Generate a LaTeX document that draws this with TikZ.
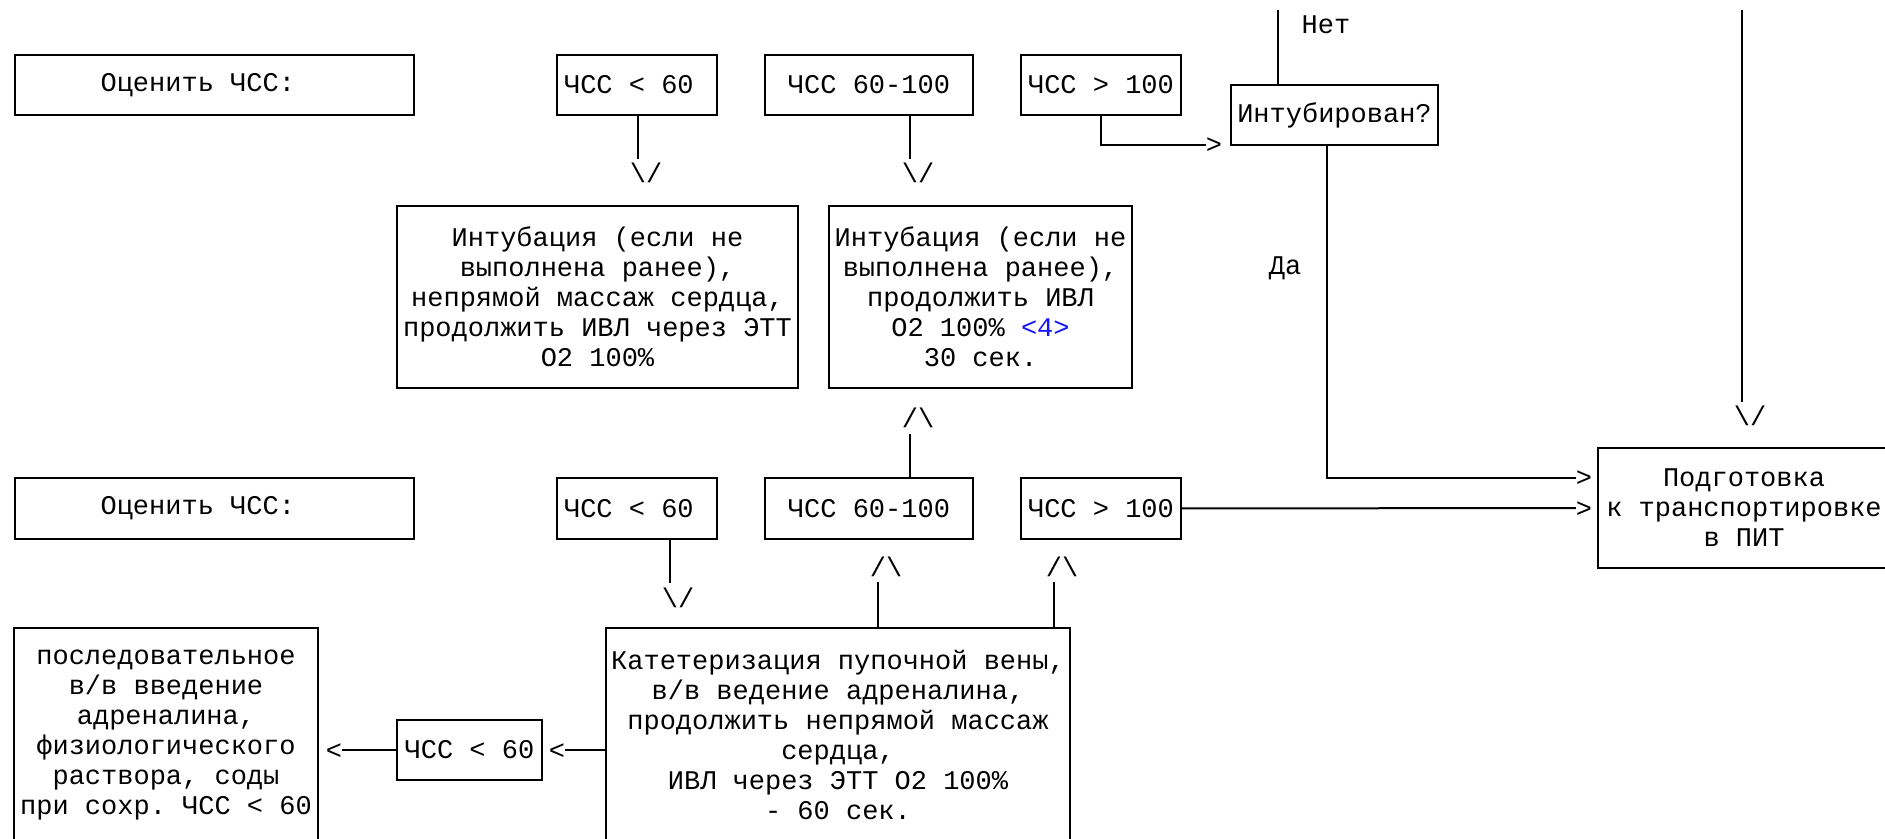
\documentclass[tikz,border=0pt]{standalone}
\usepackage{fontspec}
\setmonofont{Liberation Mono}
\usepackage{xcolor}
\definecolor{linkblue}{RGB}{20,20,255}

\begin{document}
\begin{tikzpicture}[x=0.5pt, y=-0.5pt,
  box/.style={draw, line width=1pt, inner sep=0pt, align=center, font=\ttfamily\fontsize{13.5}{15}\selectfont},
  glyph/.style={inner sep=0pt, outer sep=0pt, text height=9pt, text depth=0pt, font=\ttfamily\fontsize{13.5}{15}\selectfont},
  lbl/.style={inner sep=0pt, font=\ttfamily\fontsize{13.5}{15}\selectfont},
  wire/.style={line width=1pt}]

\useasboundingbox (0,0) rectangle (1885,839) ;
\clip (0,0) rectangle (1885,839) ;

\node [box, minimum width=199.5pt, minimum height=30pt] (rateA) at (214,85) {Оценить ЧСС:\ \ } ;
\node [box, minimum width=80pt, minimum height=30pt] (slowA) at (637,85) {ЧСС < 60\ } ;
\node [box, minimum width=104pt, minimum height=30pt] (normA) at (869,85) {ЧСС 60-100} ;
\node [box, minimum width=80pt, minimum height=30pt] (fastA) at (1101,85) {ЧСС > 100} ;
\node [box, minimum width=103.5pt, minimum height=30pt] (intub) at (1334.5,115) {Интубирован?} ;

\node [box, minimum width=200.5pt, minimum height=91pt] (tubeA) at (597.5,297)
  {Интубация (если не\ \\ выполнена ранее),\\ непрямой массаж сердца,\\ продолжить ИВЛ через ЭТТ\\ O2 100\%} ;
\node [box, minimum width=151.5pt, minimum height=91pt] (tubeB) at (980.5,297)
  {Интубация (если не\\ выполнена ранее),\\ продолжить ИВЛ\\ O2 100\% \textcolor{linkblue}{<4>}\\ 30 сек.} ;

\node [box, minimum width=199.5pt, minimum height=30.5pt] (rateB) at (214,508.5) {Оценить ЧСС:\ \ } ;
\node [box, minimum width=80pt, minimum height=30.5pt] (slowB) at (637,508.5) {ЧСС < 60\ } ;
\node [box, minimum width=104pt, minimum height=30.5pt] (normB) at (869,508.5) {ЧСС 60-100} ;
\node [box, minimum width=80pt, minimum height=30.5pt] (fastB) at (1101,508.5) {ЧСС > 100} ;
\node [box, minimum width=146pt, minimum height=60pt] (transfer) at (1744,508)
  {Подготовка\\ к транспортировке\\ в ПИТ} ;

\node [box, minimum width=232pt, minimum height=107pt] (cath) at (838,735)
  {Катетеризация пупочной вены,\\ в/в ведение адреналина,\\ продолжить непрямой массаж\\ сердца,\\ ИВЛ через ЭТТ O2 100\%\\ - 60 сек.} ;
\node [box, minimum width=72.5pt, minimum height=30pt] (slowC) at (469.5,750) {ЧСС < 60} ;
\node [box, minimum width=152pt, minimum height=107pt] (drugs) at (166,735)
  {последовательное\\ в/в введение\\ адреналина,\\ физиологического\\ раствора, соды\\ при сохр. ЧСС < 60} ;

\node [glyph] (dnA) at (638,174) {\textbackslash\rlap{/}} ;
\node [glyph] (dnB) at (910,174) {\textbackslash\rlap{/}} ;
\node [glyph] (upB) at (910,419) {/\rlap{\textbackslash}} ;
\node [glyph] (dnT) at (1742,417) {\textbackslash\rlap{/}} ;
\node [glyph] (dnC) at (670,598) {\textbackslash\rlap{/}} ;
\node [glyph] (upC) at (878,567) {/\rlap{\textbackslash}} ;
\node [glyph] (upD) at (1054,567) {/\rlap{\textbackslash}} ;
\node [glyph] (gtA) at (1214,145) {>} ;
\node [glyph] (gtB) at (1584,478) {>} ;
\node [glyph] (gtC) at (1584,508) {>} ;
\node [glyph] (ltA) at (557,750) {<} ;
\node [glyph] (ltB) at (334,750) {<} ;

\coordinate (netTop) at (1278,10) ;
\coordinate (mainTop) at (1742,10) ;
\node [lbl] (no) at (1326,25) {Нет} ;
\node [lbl] (yes) at (1285,268) {Да} ;

\draw [wire, shorten >=3pt] (dnA |- slowA.south) -- (dnA.north) ;
\draw [wire, shorten >=3pt] (dnB |- normA.south) -- (dnB.north) ;
\draw [wire] (fastA.south) |- (gtA.west) ;
\draw [wire] (netTop) -- (netTop |- intub.north) ;
\draw [wire] ([xshift=-4pt]intub.south) |- (gtB.west) ;
\draw [wire, shorten >=3pt] (mainTop) -- (dnT.north) ;
\draw [wire, shorten >=3pt] (upB |- normB.north) -- (upB.south) ;

\draw [wire] (fastB.east) -- (gtC.west) ;
\draw [wire, shorten >=3pt] (dnC |- slowB.south) -- (dnC.north) ;
\draw [wire, shorten >=3pt] (upC |- cath.north) -- (upC.south) ;
\draw [wire, shorten >=3pt] (upD |- cath.north) -- (upD.south) ;
\draw [wire] (cath.west |- ltA) -- (ltA.east) ;
\draw [wire] (slowC.west) -- (ltB.east) ;

\end{tikzpicture}
\end{document}
